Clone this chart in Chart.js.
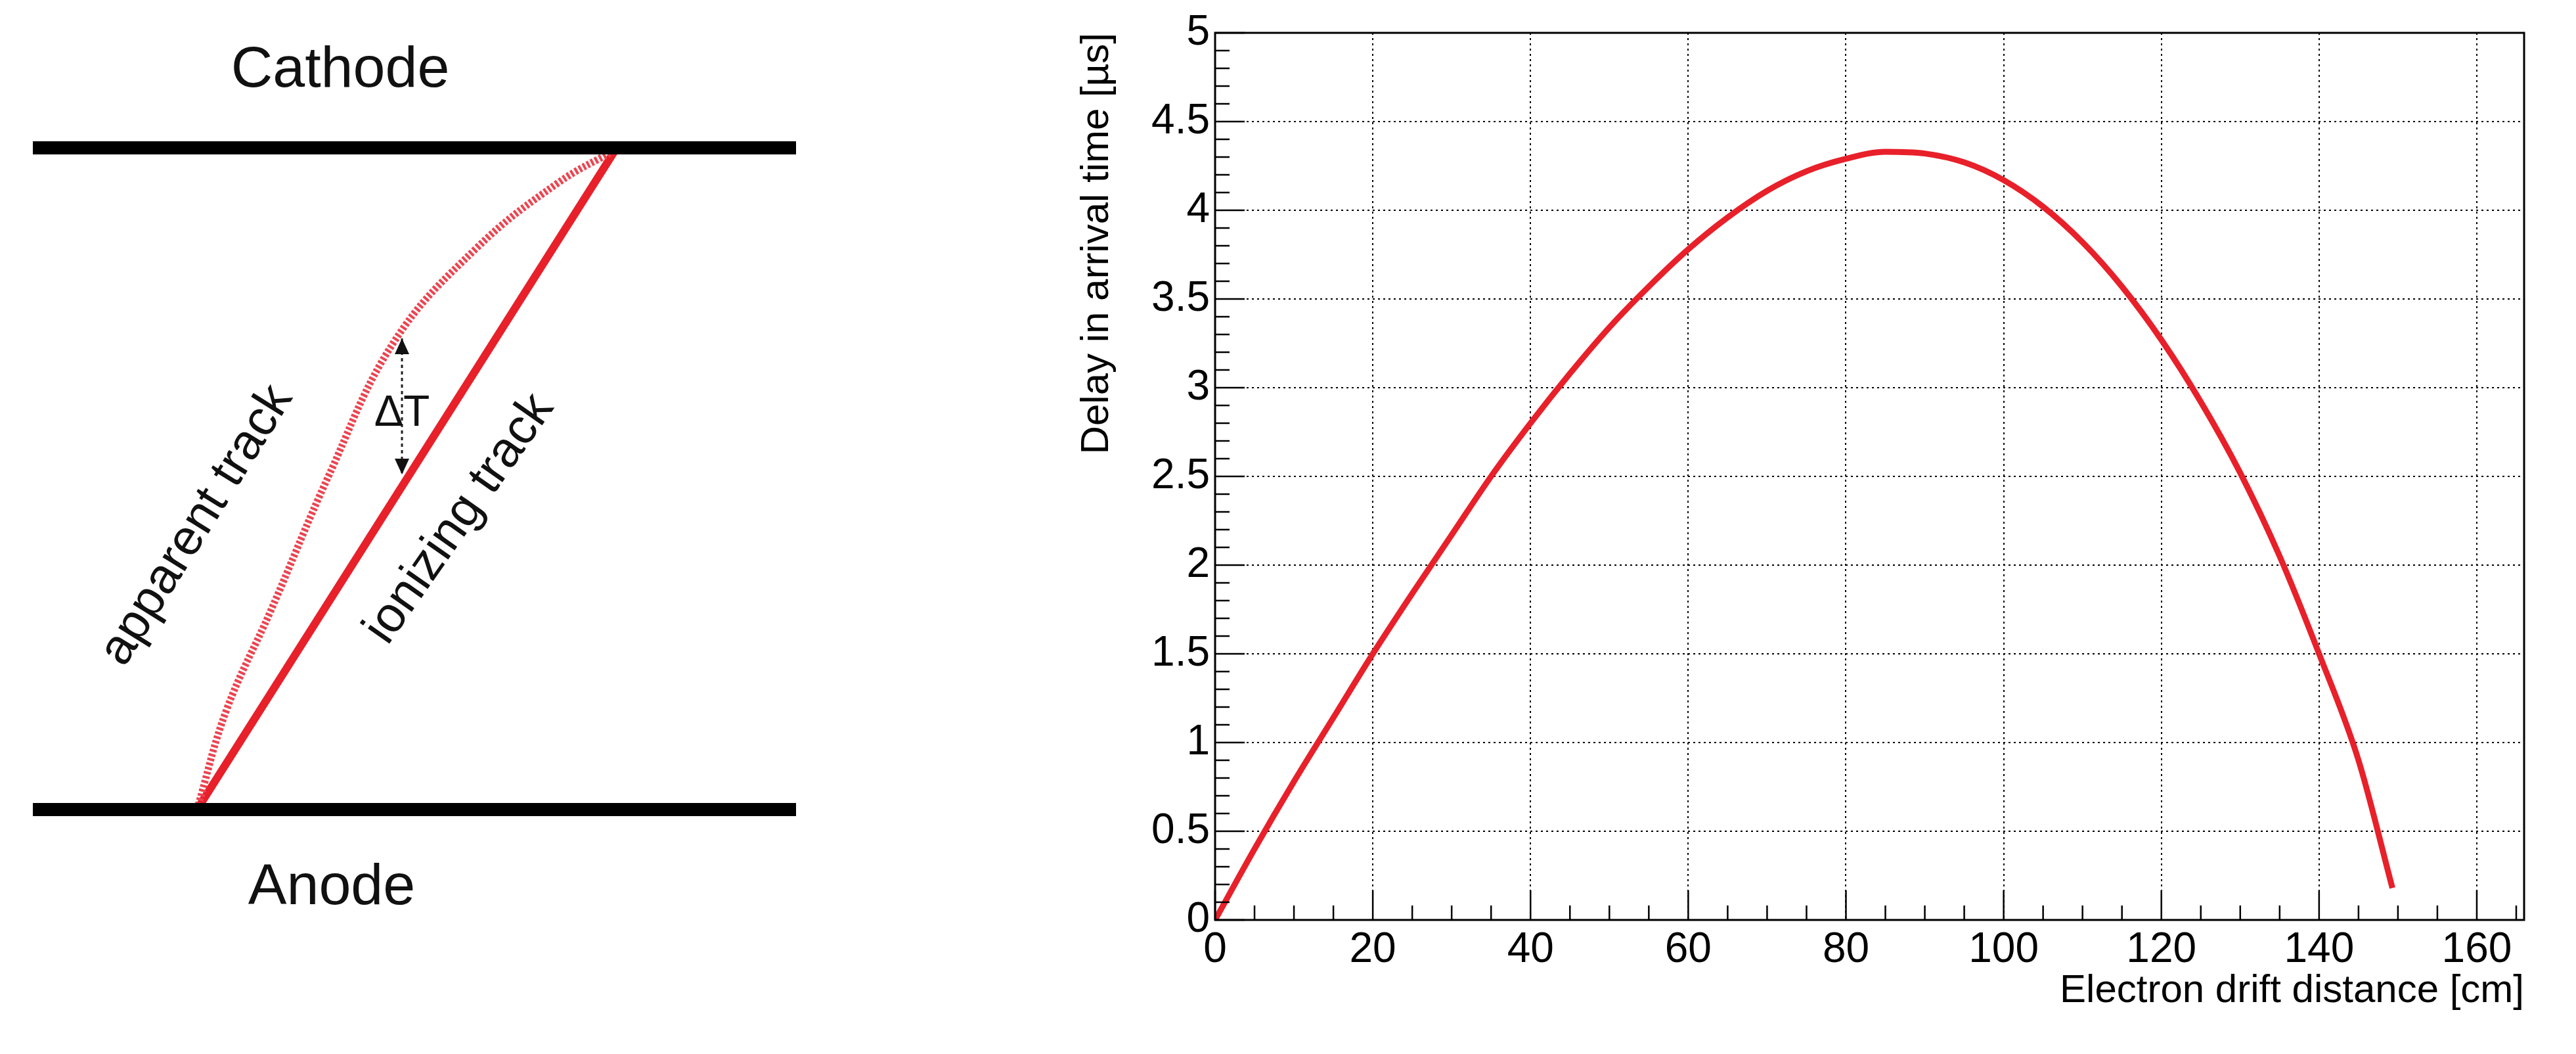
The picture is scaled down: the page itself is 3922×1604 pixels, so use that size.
<!DOCTYPE html>
<html><head><meta charset="utf-8">
<script src="https://cdn.jsdelivr.net/npm/chart.js@4"></script>
<style>body{margin:0;background:#fff;width:3922px;height:1604px;overflow:hidden}
#d{position:absolute;left:0;top:0}#c{position:absolute;left:1630px;top:0}</style>
</head><body>
<div id="d" style="width:1300px;height:1604px"><canvas id="dc"></canvas></div>
<div id="c" style="width:2292px;height:1548px"><canvas id="cc"></canvas></div>
<script>
// ---- curve data ----
const driftDistance = [0,5,10,15,20,25,30,35,40,45,50,55,60,65,70,75,80,85,90,95,100,105,110,115,120,125,130,135,140,145,149.3];
const delayTime = [0,0.4,0.78,1.14,1.5,1.84,2.17,2.5,2.8,3.08,3.34,3.57,3.78,3.96,4.11,4.22,4.29,4.33,4.32,4.27,4.17,4.02,3.82,3.57,3.27,2.92,2.52,2.05,1.5,0.9,0.18];
const xTickValues = [0,20,40,60,80,100,120,140,160];
const yTickValues = [0,0.5,1,1.5,2,2.5,3,3.5,4,4.5,5];
// ---- diagram data (diagram units) ----
const cathodeLine = [{x:50,y:225},{x:1212,y:225}];
const anodeLine = [{x:50,y:1232},{x:1212,y:1232}];
const ionizingTrack = [{x:300,y:1232},{x:937,y:228}];
const apparentTrack = [{x:300,y:1232},{x:345,y:1080},{x:412,y:930},{x:500,y:725},{x:600,y:520},{x:725,y:378},{x:850,y:278},{x:937,y:228}];
const deltaArrow = [{x:612,y:515},{x:612,y:722}];
const diagramLabels = [
 {text:'Cathode',x:518,y:108,rot:0,size:88},
 {text:'Anode',x:505,y:1352,rot:0,size:88},
 {text:'apparent track',x:300,y:800,rot:-58,size:76},
 {text:'ionizing track',x:700,y:790,rot:-55,size:76},
 {text:'ΔT',x:612,y:630,rot:0,size:66}
];

const red='#e8202a';
const diagPlugin={id:'dl',afterDatasetsDraw(ch){
 const c=ch.ctx,xs=ch.scales.x,ys=ch.scales.y;
 c.save();c.fillStyle='#111';c.textAlign='center';c.textBaseline='middle';
 diagramLabels.forEach(l=>{c.save();c.translate(xs.getPixelForValue(l.x),ys.getPixelForValue(l.y));c.rotate(l.rot*Math.PI/180);
  c.font=l.size+'px "Liberation Sans", Arial';c.fillText(l.text,0,0);c.restore();});
 const ax=xs.getPixelForValue(deltaArrow[0].x),a1=ys.getPixelForValue(deltaArrow[0].y),a2=ys.getPixelForValue(deltaArrow[1].y);
 c.beginPath();c.moveTo(ax,a1);c.lineTo(ax-11,a1+24);c.lineTo(ax+11,a1+24);c.closePath();c.fill();
 c.beginPath();c.moveTo(ax,a2);c.lineTo(ax-11,a2-24);c.lineTo(ax+11,a2-24);c.closePath();c.fill();
 c.restore();}};
new Chart(document.getElementById('dc'),{type:'scatter',
 data:{datasets:[
  {data:cathodeLine,showLine:true,borderColor:'#000',borderWidth:20,pointRadius:0},
  {data:anodeLine,showLine:true,borderColor:'#000',borderWidth:20,pointRadius:0},
  {data:apparentTrack,showLine:true,borderColor:'#ec4450',borderWidth:11,borderDash:[4,3],tension:0.4,pointRadius:0},
  {data:ionizingTrack,showLine:true,borderColor:red,borderWidth:12,pointRadius:0},
  {data:deltaArrow,showLine:true,borderColor:'#222',borderWidth:3,borderDash:[5,5],pointRadius:0}]},
 options:{responsive:true,maintainAspectRatio:false,animation:false,layout:{padding:0},
  plugins:{legend:{display:false},tooltip:{enabled:false}},
  scales:{x:{type:'linear',min:0,max:1300,display:false},y:{type:'linear',min:0,max:1604,reverse:true,display:false}}},
 plugins:[diagPlugin]});

// ---- ROOT-style frame & ticks ----
const rootPlugin={id:'rt',afterDatasetsDraw(ch){
 const c=ch.ctx,a=ch.chartArea,xs=ch.scales.x,ys=ch.scales.y;
 c.save();c.strokeStyle='#000';c.lineWidth=3;
 c.strokeRect(a.left,a.top,a.right-a.left,a.bottom-a.top);
 c.lineWidth=2.5;c.beginPath();
 for(let v=0;v<=165;v+=5){const p=xs.getPixelForValue(v);const L=(v%20===0)?45:22;c.moveTo(p,a.bottom);c.lineTo(p,a.bottom-L);}
 for(let i=0;i<=50;i++){const v=i/10;const p=ys.getPixelForValue(v);const L=(i%5===0)?45:22;c.moveTo(a.left,p);c.lineTo(a.left+L,p);}
 c.stroke();c.restore();}};
const fnt='"Liberation Sans", Arial';
new Chart(document.getElementById('cc'),{type:'scatter',
 data:{datasets:[{data:driftDistance.map((x,i)=>({x,y:delayTime[i]})),showLine:true,borderColor:red,borderWidth:9,pointRadius:0,cubicInterpolationMode:'monotone'}]},
 options:{responsive:true,maintainAspectRatio:false,animation:false,
  layout:{padding:{top:50,right:79,left:0,bottom:0}},
  plugins:{legend:{display:false},tooltip:{enabled:false}},
  scales:{
   x:{type:'linear',min:0,max:166,
    afterBuildTicks(s){s.ticks=xTickValues.map(v=>({value:v}));},
    afterFit(s){s.height=148;},
    grid:{color:'#000',lineWidth:2,drawTicks:false},border:{display:false,dash:[3,5]},
    ticks:{padding:8,color:'#000',font:{size:64,family:fnt},maxRotation:0,callback:v=>String(v)},
    title:{display:true,align:'end',text:'Electron drift distance [cm]',color:'#000',padding:{top:0},font:{size:60,family:fnt}}},
   y:{type:'linear',min:0,max:5,
    afterBuildTicks(s){s.ticks=yTickValues.map(v=>({value:v}));},
    afterFit(s){s.width=220;},
    grid:{color:'#000',lineWidth:2,drawTicks:false},border:{display:false,dash:[3,5]},
    ticks:{padding:8,color:'#000',font:{size:64,family:fnt},callback:v=>String(v)},
    title:{display:true,align:'end',text:'Delay in arrival time [µs]',color:'#000',padding:{bottom:4},font:{size:60,family:fnt}}}}},
 plugins:[rootPlugin]});
</script></body></html>
